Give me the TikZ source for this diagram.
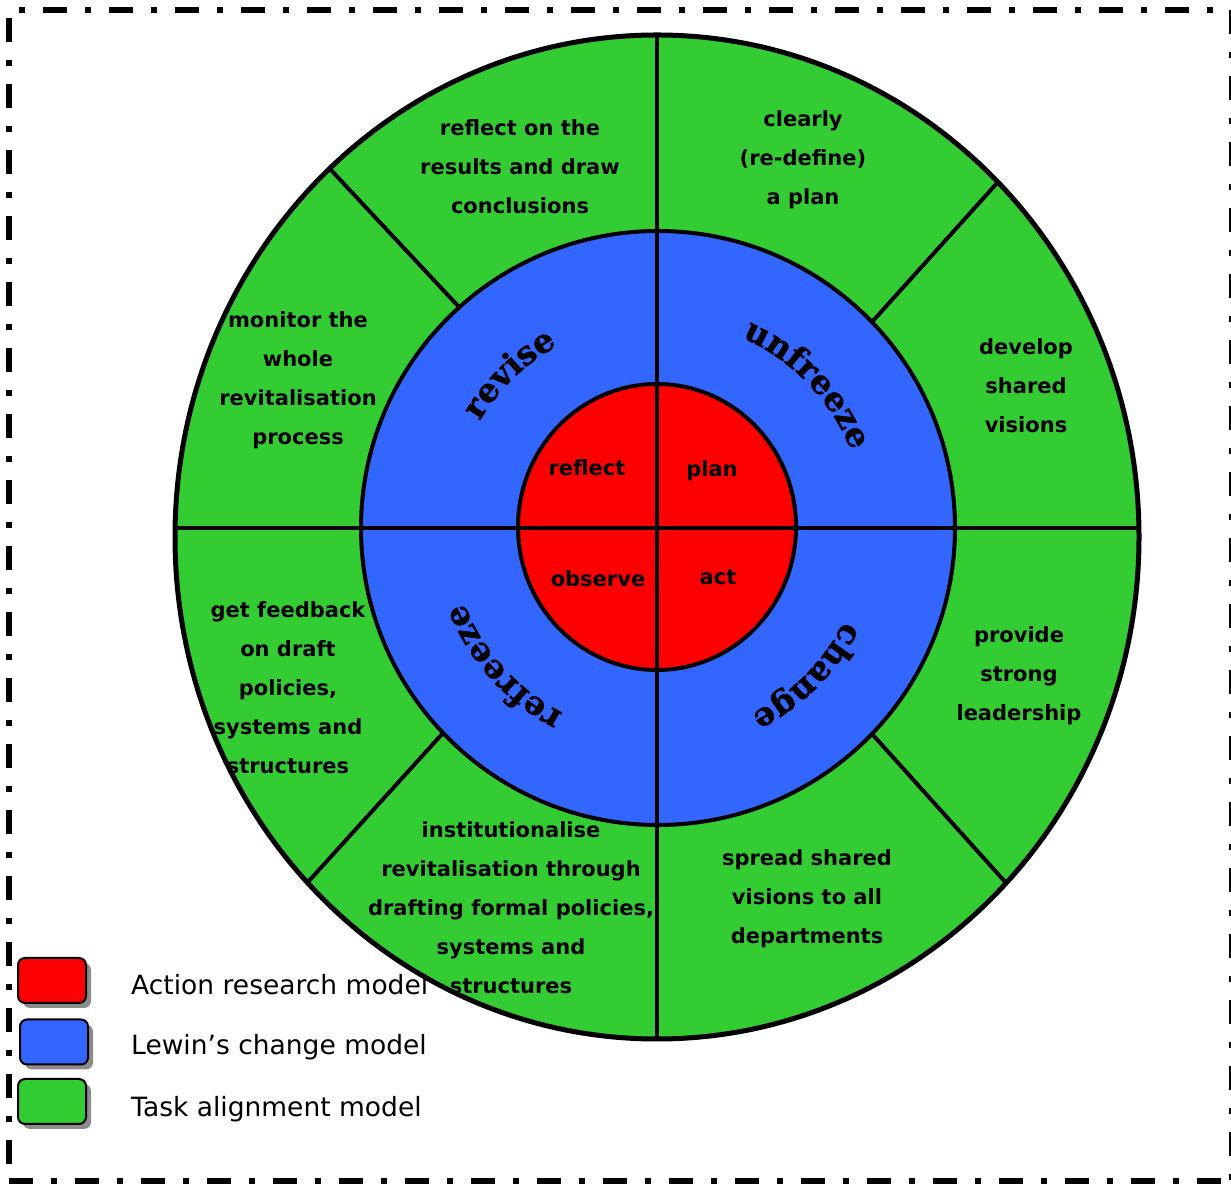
\documentclass[tikz,border=0pt]{standalone}
\usepackage{fontspec}
\setmainfont{DejaVu Sans}
\newfontfamily\curvefont{DejaVu Serif Bold}[FakeBold=1.2]
\usetikzlibrary{decorations.text,shadows}
\definecolor{ringgreen}{HTML}{33CC33}
\definecolor{ringblue}{HTML}{3366FF}
\definecolor{ringred}{HTML}{FF0000}

\begin{document}
\begin{tikzpicture}[x=1pt,y=1pt,
  wedge/.style={font=\bfseries\fontsize{21}{39}\selectfont, align=center, inner sep=0pt},
  core/.style={font=\bfseries\fontsize{21}{25}\selectfont, inner sep=0pt},
  key/.style={draw=black, line width=2pt, rounded corners=7pt,
    minimum width=68pt, minimum height=45pt, inner sep=0pt,
    drop shadow={shadow xshift=5pt, shadow yshift=-5pt, fill=black!45, opacity=1}},
  keytext/.style={anchor=west, inner sep=0pt, font=\fontsize{26.5}{30}\selectfont},
  divider/.style={line width=4pt},
  frame/.style={line width=6pt, dash pattern=on 24pt off 18pt on 6pt off 18pt},
  curved/.style={decorate, decoration={text along path, text align=center,
    text={|\curvefont\fontsize{33}{36}\selectfont|#1}}}
]
\useasboundingbox (0,0) rectangle (1231,1183);
\clip (0,0) rectangle (1231,1183);

% dash-dot frame
\draw[frame, dash phase=32pt] (9,1173) -- (1231.5,1173);
\draw[frame, dash phase=58pt] (9,1173) -- (9,2.5);
\draw[frame] (1231.5,1173) -- (1231.5,2.5);
\draw[frame] (9,2.5) -- (1231.5,2.5);

% outer ring: task alignment
\fill[ringgreen] (657,646) ellipse [x radius=482, y radius=502];
\draw[divider] (331,1013) -- (458,877);
\draw[divider] (998,1001) -- (872,861);
\draw[divider] (1007,299) -- (873,448);
\draw[divider] (308,301) -- (443,450);
\draw[line width=5pt] (657,646) ellipse [x radius=482, y radius=502];

% middle ring: Lewin
\draw[line width=4pt, fill=ringblue] (658,655) circle [radius=297];

% core: action research
\draw[line width=4pt, fill=ringred] (657,656) ellipse [x radius=139, y radius=143];

% quadrant lines
\draw[divider] (657,1148) -- (657,144);
\draw[divider] (175,655) -- (1139,655);

% Lewin stages along the ring
\path[curved=unfreeze] (658,655) ++(104:208) arc[start angle=104, end angle=-16, radius=208];
\path[curved=revise] (658,655) ++(194:208) arc[start angle=194, end angle=74, radius=208];
\path[curved=refreeze] (658,655) ++(282:208) arc[start angle=282, end angle=162, radius=208];
\path[curved=change] (658,655) ++(15:208) arc[start angle=15, end angle=-105, radius=208];

% action research steps
\node[core] (reflect) at (587,715) {reflect};
\node[core] (plan) at (712,712) {plan};
\node[core] (observe) at (598,604) {observe};
\node[core] (act) at (718,606) {act};

% task alignment steps
\node[wedge] (t1) at (803,1023.5) {clearly\\(re-define)\\a plan};
\node[wedge] (t2) at (1026,797) {develop\\shared\\visions};
\node[wedge] (t3) at (1019,507) {provide\\strong\\leadership};
\node[wedge] (t4) at (807,284) {spread shared\\visions to all\\departments};
\node[wedge] (t5) at (511,275) {institutionalise\\revitalisation through\\drafting formal policies,\\systems and\\structures};
\node[wedge] (t6) at (288,495.5) {get feedback\\on draft\\policies,\\systems and\\structures};
\node[wedge] (t7) at (298,802.5) {monitor the\\whole\\revitalisation\\process};
\node[wedge] (t8) at (520,1016) {reflect on the\\results and draw\\conclusions};

% legend
\node[key, fill=ringred] (kred) at (52,202.5) {};
\node[key, fill=ringblue] (kblue) at (54,141) {};
\node[key, fill=ringgreen] (kgreen) at (52,81.5) {};
\node[keytext] (lred) at (131,198) {Action research model};
\node[keytext] (lblue) at (131,136) {Lewin’s change model};
\node[keytext] (lgreen) at (131,74) {Task alignment model};
\end{tikzpicture}
\end{document}
